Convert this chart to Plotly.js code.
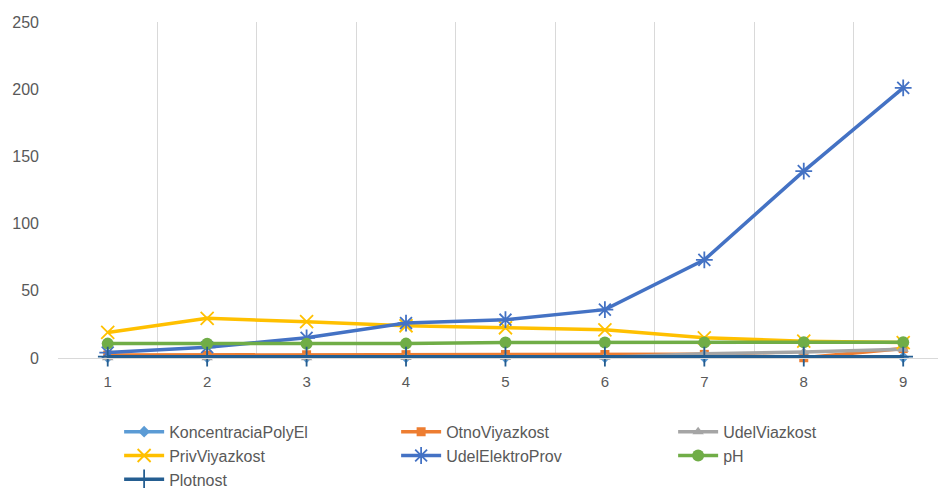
<!DOCTYPE html>
<html>
<head>
<meta charset="utf-8">
<script src="https://cdn.plot.ly/plotly-3.0.1.min.js"></script>
<style>
  html, body { margin: 0; padding: 0; background: #fff; }
  #chart { width: 938px; height: 488px; }
</style>
</head>
<body>
<div id="chart"></div>
<script>
// Sample numbers (x axis)
const samples = ['1', '2', '3', '4', '5', '6', '7', '8', '9'];

// Measured series
const koncentraciaPolyEl = [0.5, 0.5, 0.5, 0.5, 0.5, 0.5, 0.5, 0.5, 0.5];
const otnoViyazkost      = [2.2, 2.2, 2.4, 2.5, 2.6, 2.6, 2.7, 0.2, 7];
const udelViazkost       = [0.1, 0.1, 0.2, 0.3, 0.4, 0.5, 3.2, 4.5, 6.5];
const privViyazkost      = [19, 29.5, 27, 24, 22.5, 21, 15, 12.5, 11.5];
const udelElektroProv    = [4, 8, 15, 26, 28.5, 36, 73, 139, 201];
const pH                 = [10.7, 10.6, 10.6, 10.7, 11.5, 11.5, 11.6, 11.7, 11.8];
const plotnost           = [1.0, 1.0, 1.0, 1.0, 1.0, 1.0, 1.0, 1.0, 1.0];

const seriesNames = ['KoncentraciaPolyEl', 'OtnoViyazkost', 'UdelViazkost',
                     'PrivViyazkost', 'UdelElektroProv', 'pH', 'Plotnost'];

const seriesStyle = [
  { color: '#5B9BD5', symbol: 'diamond',        size: 9,  open: false },
  { color: '#ED7D31', symbol: 'square',         size: 9,  open: false },
  { color: '#A5A5A5', symbol: 'triangle-up',    size: 10, open: false },
  { color: '#FFC000', symbol: 'x-thin-open',    size: 13, open: true  },
  { color: '#4472C4', symbol: 'asterisk-open',  size: 14, open: true  },
  { color: '#70AD47', symbol: 'circle',         size: 12, open: false },
  { color: '#255E91', symbol: 'cross-thin-open',size: 14, open: true  }
];

const seriesValues = [koncentraciaPolyEl, otnoViyazkost, udelViazkost,
                      privViyazkost, udelElektroProv, pH, plotnost];

const traces = seriesValues.map((vals, i) => {
  const s = seriesStyle[i];
  return {
    type: 'scatter',
    mode: 'lines+markers',
    name: seriesNames[i],
    x: samples,
    y: vals,
    cliponaxis: false,
    line: { color: s.color, width: 3.5 },
    marker: {
      symbol: s.symbol,
      size: s.size,
      color: s.color,
      line: { color: s.color, width: s.open ? 1.8 : 0 }
    }
  };
});

const layout = {
  width: 938,
  height: 488,
  margin: { l: 58, r: 0, t: 22, b: 130 },
  paper_bgcolor: '#ffffff',
  plot_bgcolor: '#ffffff',
  font: { family: 'Liberation Sans, Arial, sans-serif', size: 15, color: '#595959' },
  showlegend: true,
  xaxis: {
    type: 'category',
    categoryorder: 'array',
    categoryarray: samples,
    range: [-0.5, 8.35],
    tickson: 'boundaries',
    showgrid: true,
    gridcolor: '#d9d9d9',
    gridwidth: 1,
    showline: true,
    linecolor: '#d9d9d9',
    linewidth: 1,
    ticks: '',
    ticklabelstandoff: 10,
    zeroline: false,
    fixedrange: true
  },
  yaxis: {
    range: [0, 250],
    tickvals: [0, 50, 100, 150, 200, 250],
    tickfont: { size: 16 },
    showgrid: false,
    zeroline: false,
    showline: false,
    ticks: '',
    ticklabelstandoff: 18,
    fixedrange: true
  },
  legend: {
    orientation: 'h',
    xref: 'container',
    yref: 'container',
    x: 0.127,
    xanchor: 'left',
    y: 0.15,
    yanchor: 'top',
    entrywidth: 222,
    entrywidthmode: 'pixels',
    tracegroupgap: 0,
    itemwidth: 40,
    font: { size: 16, color: '#595959' }
  }
};

Plotly.newPlot('chart', traces, layout, { displayModeBar: false, staticPlot: true });
</script>
</body>
</html>
